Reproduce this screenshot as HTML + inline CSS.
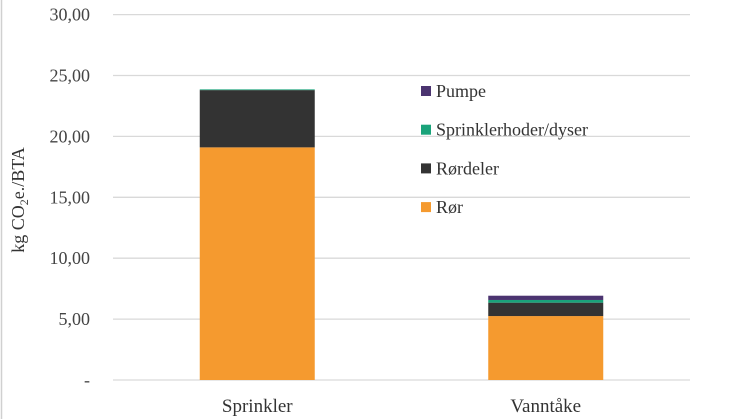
<!DOCTYPE html>
<html><head><meta charset="utf-8"><style>
html,body{margin:0;padding:0;background:#fff;}
svg{display:block;font-family:"Liberation Serif",serif;}
</style></head><body>
<svg id="chart" width="746" height="419" viewBox="0 0 746 419">
<line x1="1.5" y1="0" x2="1.5" y2="419" stroke="#d0d0d0" stroke-width="1.5"/>
<g id="grid"></g><g id="bars"></g><g id="legend"></g>
<text transform="translate(24,200) rotate(-90)" text-anchor="middle" font-size="18" fill="#333">kg CO<tspan font-size="12" dy="4">2</tspan><tspan dy="-4">e./BTA</tspan></text>
</svg>
<script>
const categories = ["Sprinkler", "Vanntåke"];
const seriesNames = ["Rør", "Rørdeler", "Sprinklerhoder/dyser", "Pumpe"];
const ror = [19.1, 5.25];
const rordeler = [4.7, 1.1];
const hoder = [0.06, 0.22];
const pumpe = [0.0, 0.35];
const yTicks = [0, 5, 10, 15, 20, 25, 30];
const yTickLabels = ["-", "5,00", "10,00", "15,00", "20,00", "25,00", "30,00"];
const colors = ["#f59a2f", "#333333", "#1aa37a", "#4b3470"];
const NS = "http://www.w3.org/2000/svg";
const x0 = 113, x1 = 690, y0 = 380, pxPerUnit = 12.18;
const y = v => y0 - v * pxPerUnit;
const bandW = (x1 - x0) / categories.length;
const barW = 115;
const xc = i => x0 + bandW * (i + 0.5);
function mk(tag, attrs, parent) { const e = document.createElementNS(NS, tag); for (const k in attrs) e.setAttribute(k, attrs[k]); parent.appendChild(e); return e; }
const grid = document.getElementById("grid");
yTicks.forEach((t, i) => {
  const l = mk("line", {x1: x0, x2: x1, y1: y(t), y2: y(t), stroke: "#d9d9d9", "stroke-width": 1.3}, grid);
  
  
  const tx = mk("text", {x: 90, y: y(t) + 6, "text-anchor": "end", "font-size": 18, fill: "#444"}, grid);
  tx.textContent = yTickLabels[i];
  
  
});
const bars = document.getElementById("bars");
const series = [ror, rordeler, hoder, pumpe];
categories.forEach((c, i) => {
  let acc = 0;
  series.forEach((s, j) => {
    const v = s[i];
    if (v > 0) {
      const r = mk("rect", {x: xc(i) - barW / 2, y: y(acc + v), width: barW, height: v * pxPerUnit, fill: colors[j]}, bars);
      
      
    }
    acc += v;
  });
  const t = mk("text", {x: xc(i), y: 412, "text-anchor": "middle", "font-size": 19, fill: "#333"}, bars);
  t.textContent = c;
  
  
});
const legend = document.getElementById("legend");
const order = [3, 2, 1, 0];
order.forEach((si, k) => {
  const cy = 91 + k * 38.7;
  const r = mk("rect", {x: 421, y: cy - 5, width: 10, height: 10, fill: colors[si]}, legend);
  
  
  const t = mk("text", {x: 436, y: cy + 6, "font-size": 18, fill: "#333"}, legend);
  t.textContent = seriesNames[si];
  
  
});
</script>
</body></html>
